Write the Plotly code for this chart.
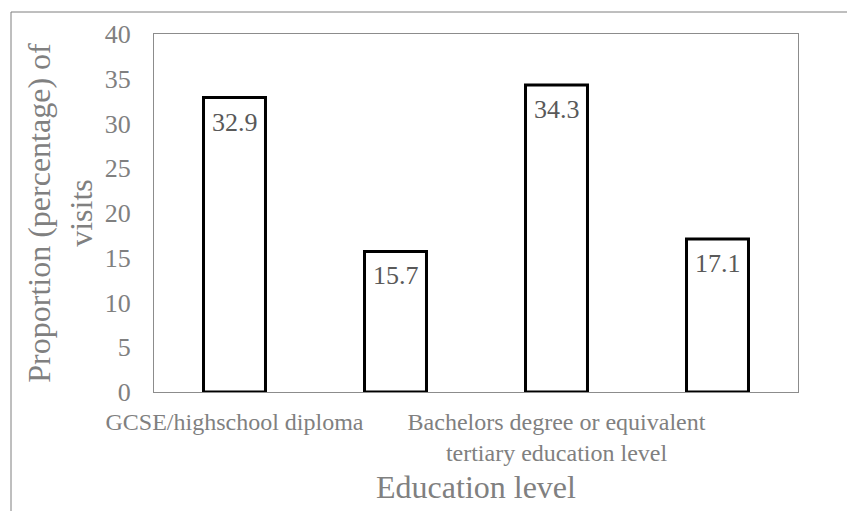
import plotly.graph_objects as go

# Data
categories = ["GCSE/highschool diploma", "Category 2",
              "Bachelors degree or equivalent<br>tertiary education level", "Category 4"]
shown_ticks = [0, 2]
values = [32.9, 15.7, 34.3, 17.1]
y_ticks = [0, 5, 10, 15, 20, 25, 30, 35, 40]

W, H = 847, 511
L, R, T, B = 154, 49, 34, 119
pw, ph = W - L - R, H - T - B

FONT = "Liberation Serif"
GRAY = "#808080"
LABEL = "#595959"

x_pos = list(range(len(categories)))

fig = go.Figure()
fig.add_trace(go.Bar(
    x=x_pos, y=values,
    marker=dict(color="white", line=dict(color="black", width=3)),
    width=0.385,
    showlegend=False,
    hoverinfo="skip",
))

annotations = []
for xi, v in zip(x_pos, values):
    annotations.append(dict(
        x=xi, y=v, xref="x", yref="y", text=f"{v}", showarrow=False,
        yanchor="top", yshift=-8,
        font=dict(family=FONT, size=26, color=LABEL),
    ))

fig.update_layout(
    width=W, height=H,
    margin=dict(l=L, r=R, t=T, b=B),
    paper_bgcolor="white", plot_bgcolor="white",
    font=dict(family=FONT, color=GRAY),
    annotations=annotations,
    xaxis=dict(
        range=[-0.5, 3.5],
        tickmode="array", tickvals=shown_ticks,
        ticktext=[categories[i] for i in shown_ticks],
        tickfont=dict(family=FONT, size=24, color=GRAY),
        showgrid=False, zeroline=False,
        showline=True, linecolor="#8c8c8c", linewidth=1, mirror=True,
        ticks="", ticklabelstandoff=8,
        title=dict(text="Education level", font=dict(family=FONT, size=32, color=GRAY),
                   standoff=10),
    ),
    yaxis=dict(
        range=[0, 40],
        tickmode="array", tickvals=y_ticks,
        tickfont=dict(family=FONT, size=26, color=GRAY),
        showgrid=False, zeroline=False,
        showline=True, linecolor="#8c8c8c", linewidth=1, mirror=True,
        ticks="", ticklabelstandoff=17,
        title=dict(text="Proportion (percentage) of<br>visits",
                   font=dict(family=FONT, size=32, color=GRAY), standoff=2),
    ),
    shapes=[
        dict(type="line", xref="paper", yref="paper",
             x0=(11 - L) / pw, x1=(W + 20 - L) / pw,
             y0=1 + (T - 12) / ph, y1=1 + (T - 12) / ph,
             line=dict(color="#7f7f7f", width=1)),
        dict(type="line", xref="paper", yref="paper",
             x0=(11 - L) / pw, x1=(11 - L) / pw,
             y0=1 + (T - 12) / ph, y1=-(B + 20) / ph,
             line=dict(color="#7f7f7f", width=1)),
    ],
)

fig.write_html("out.html")
